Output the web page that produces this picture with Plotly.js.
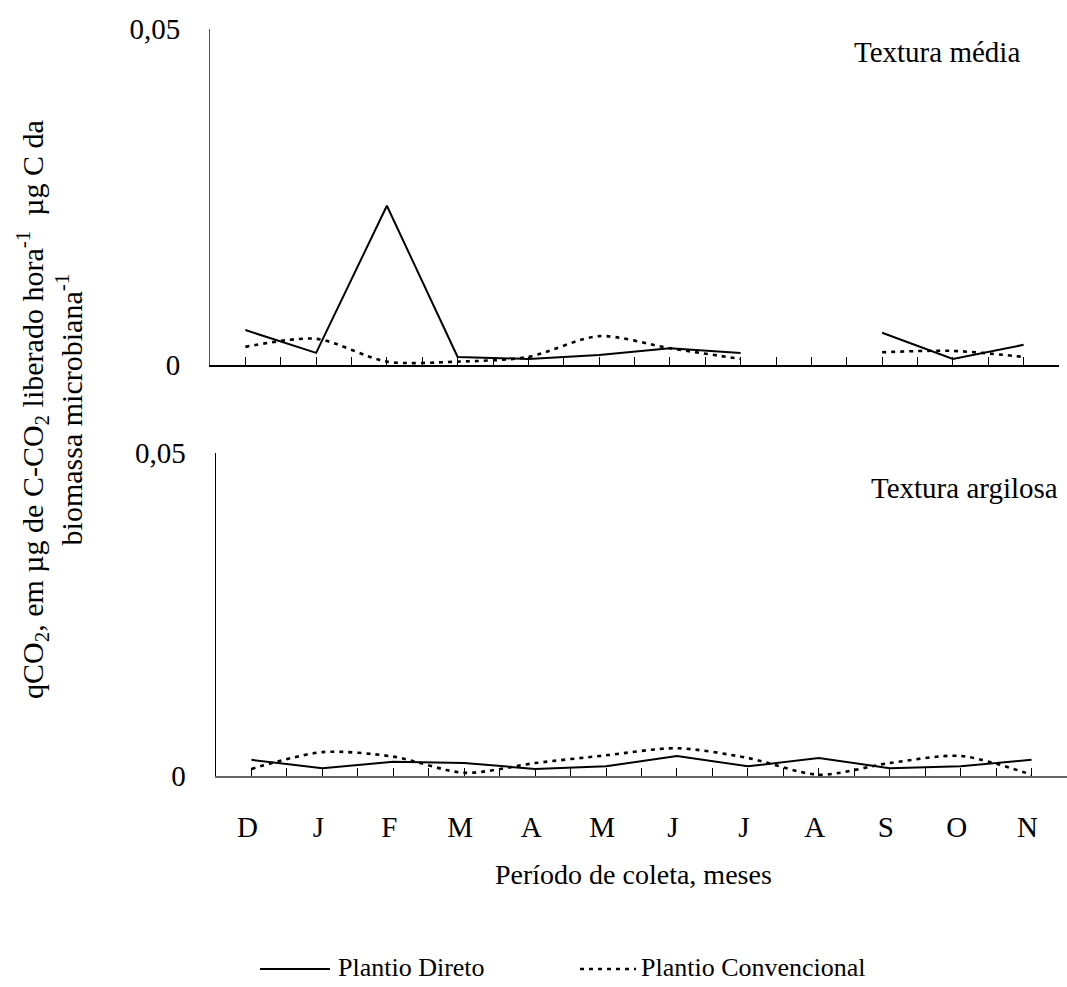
<!DOCTYPE html>
<html>
<head>
<meta charset="utf-8">
<script src="https://cdn.plot.ly/plotly-3.0.1.min.js"></script>
<style>
  html, body { margin: 0; padding: 0; background: #fff; }
  #chart { width: 1067px; height: 987px; }
</style>
</head>
<body>
<div id="chart"></div>
<script>
// Collection months (December to November)
const months = ['D', 'J', 'F', 'M', 'A', 'M', 'J', 'J', 'A', 'S', 'O', 'N'];

// qCO2 — medium texture soil (August not sampled)
const mediaDireto       = [0.0052, 0.0018, 0.0237, 0.0012, 0.0009, 0.0015, 0.0025, 0.0018, null, 0.0048, 0.0009, 0.0030];
const mediaConvencional = [0.0027, 0.0039, 0.0005, 0.0005, 0.0012, 0.0043, 0.0025, 0.0009, null, 0.0019, 0.0021, 0.0012];

// qCO2 — clay texture soil
const argilosaDireto       = [0.0025, 0.0012, 0.0022, 0.0020, 0.0011, 0.0015, 0.0031, 0.0015, 0.0028, 0.0012, 0.0015, 0.0025];
const argilosaConvencional = [0.0011, 0.0037, 0.0030, 0.0005, 0.0020, 0.0032, 0.0043, 0.0028, 0.0002, 0.0020, 0.0031, 0.0002];

const seriesNames = ['Plantio Direto', 'Plantio Convencional'];
const panelTitles = ['Textura média', 'Textura argilosa'];

const FONT = 'Liberation Serif';
const FS = 29;
const W = 1067, H = 987;

const xIdx = months.map((_, i) => i);

// ticks on every month and halfway between months
const halfTicks = [];
for (let v = 0; v <= 11.5001; v += 0.5) halfTicks.push(+v.toFixed(1));
const halfText = halfTicks.map(v => (Number.isInteger(v) ? months[v] : ''));

const solid = { color: '#000', width: 2 };
const dotted = { color: '#000', width: 2.6, dash: '4px,5px', shape: 'spline', smoothing: 0.8 };

const traces = [
  { x: xIdx, y: mediaDireto, xaxis: 'x', yaxis: 'y', mode: 'lines', line: solid,
    name: seriesNames[0], connectgaps: false },
  { x: xIdx, y: mediaConvencional, xaxis: 'x', yaxis: 'y', mode: 'lines', line: dotted,
    name: seriesNames[1], connectgaps: false },
  { x: xIdx, y: argilosaDireto, xaxis: 'x2', yaxis: 'y2', mode: 'lines', line: solid,
    name: seriesNames[0] },
  { x: xIdx, y: argilosaConvencional, xaxis: 'x2', yaxis: 'y2', mode: 'lines', line: dotted,
    name: seriesNames[1] }
];

const px = v => v / W;
const py = v => 1 - v / H;
const txt = { family: FONT, size: FS, color: '#000' };

const yBase = {
  range: [0, 0.05], tickvals: [0, 0.05], ticktext: ['0', '0,05'],
  ticks: 'inside', ticklen: 9, tickwidth: 1, tickcolor: '#000',
  showline: true, linecolor: '#333', linewidth: 1,
  showgrid: false, zeroline: false, fixedrange: true,
  ticklabelstandoff: 23,
  tickfont: txt
};

const xBase = {
  range: [-0.5, 11.5], tickvals: halfTicks, ticktext: halfText,
  ticks: 'inside', ticklen: 8, tickwidth: 1, tickcolor: '#000',
  showline: true, linecolor: '#000', linewidth: 1.5,
  showgrid: false, zeroline: false, fixedrange: true,
  tickfont: txt
};

// legend keys: sample line + label, placed under the x-axis title
const legendY = py(969);
const legendShapes = [
  { type: 'line', xref: 'paper', yref: 'paper', x0: px(260), x1: px(330), y0: legendY, y1: legendY,
    line: { color: '#000', width: 2 } },
  { type: 'line', xref: 'paper', yref: 'paper', x0: px(580), x1: px(636), y0: legendY, y1: legendY,
    line: { color: '#000', width: 2.6, dash: '4px,5px' } }
];
const legendFont = { family: FONT, size: 26, color: '#000' };

const layout = {
  width: W, height: H,
  margin: { l: 0, r: 0, t: 0, b: 0 },
  paper_bgcolor: '#fff', plot_bgcolor: 'rgba(0,0,0,0)',
  font: txt,
  showlegend: false,
  xaxis: Object.assign({}, xBase, {
    domain: [px(210), px(1059)], anchor: 'y', showticklabels: false
  }),
  yaxis: Object.assign({}, yBase, {
    domain: [py(365), py(29)], anchor: 'x', linecolor: '#555'
  }),
  xaxis2: Object.assign({}, xBase, {
    domain: [px(216), 1], anchor: 'y2', showticklabels: true,
    linecolor: '#666', linewidth: 2,
    ticklabelstandoff: 24, ticklabelshift: -4
  }),
  yaxis2: Object.assign({}, yBase, {
    domain: [py(776), py(453)], anchor: 'x2', linecolor: '#000', linewidth: 1.5
  }),
  shapes: legendShapes,
  annotations: [
    { text: panelTitles[0], xref: 'paper', yref: 'paper', x: px(1022), y: py(52),
      xanchor: 'right', yanchor: 'middle', showarrow: false, font: txt },
    { text: panelTitles[1], xref: 'paper', yref: 'paper', x: px(1060), y: py(488),
      xanchor: 'right', yanchor: 'middle', showarrow: false, font: txt },
    { text: 'Período de coleta, meses', xref: 'paper', yref: 'paper', x: px(633), y: py(874),
      xanchor: 'center', yanchor: 'middle', showarrow: false,
      font: { family: FONT, size: 28, color: '#000' } },
    { text: seriesNames[0], xref: 'paper', yref: 'paper', x: px(336), y: py(967),
      xanchor: 'left', yanchor: 'middle', showarrow: false, font: legendFont },
    { text: seriesNames[1], xref: 'paper', yref: 'paper', x: px(639), y: py(967),
      xanchor: 'left', yanchor: 'middle', showarrow: false, font: legendFont },
    { text: 'qCO<sub>2</sub>, em µg de C-CO<sub>2</sub> liberado hora<sup>-1</sup>  µg C da<br>biomassa microbiana<sup>-1</sup>',
      xref: 'paper', yref: 'paper', x: px(50), y: py(410),
      xanchor: 'center', yanchor: 'middle', textangle: -90, showarrow: false,
      font: { family: FONT, size: 30, color: '#000' } }
  ]
};

Plotly.newPlot('chart', traces, layout, { displayModeBar: false, staticPlot: true });
</script>
</body>
</html>
